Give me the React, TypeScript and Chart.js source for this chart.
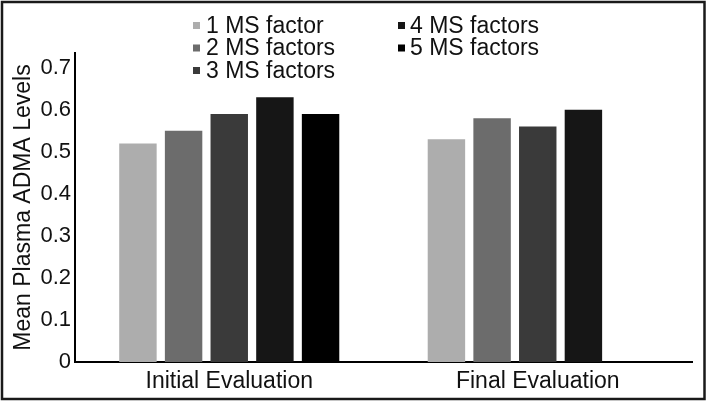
import React, { useEffect, useRef } from "react";
import { Chart, registerables } from "chart.js";

Chart.register(...registerables);

const categories = ["Initial Evaluation", "Final Evaluation"];
const seriesLabels = ["1 MS factor", "2 MS factors", "3 MS factors", "4 MS factors", "5 MS factors"];
const series1 = [0.52, 0.53];
const series2 = [0.55, 0.58];
const series3 = [0.59, 0.56];
const series4 = [0.63, 0.6];
const series5 = [0.59, null];
const seriesColors = ["#adadad", "#6c6c6c", "#3a3a3a", "#161616", "#000000"];
const yTitle = "Mean Plasma ADMA Levels";

const FONT = "'Liberation Sans', Arial, sans-serif";

const legendAndFrame = {
  id: "legendAndFrame",
  afterDraw(chart: any) {
    const ctx = chart.ctx;
    ctx.save();
    const cols = [
      { mx: 193, tx: 206 },
      { mx: 398, tx: 410 },
    ];
    const rowY = [25.5, 48, 70.5];
    ctx.font = `23px ${FONT}`;
    ctx.textBaseline = "middle";
    ctx.textAlign = "left";
    chart.data.datasets.forEach((ds: any, i: number) => {
      const c = cols[i < 3 ? 0 : 1];
      const y = rowY[i < 3 ? i : i - 3];
      ctx.fillStyle = ds.backgroundColor;
      ctx.fillRect(c.mx, y - 3.5, 7, 7);
      ctx.fillStyle = "#111";
      ctx.fillText(ds.label, c.tx, y + 1);
    });
    ctx.strokeStyle = "#1a1a1a";
    ctx.lineWidth = 2.5;
    ctx.strokeRect(2, 2, 702.5, 397);
    ctx.restore();
  },
};

export default function App() {
  const ref = useRef<HTMLCanvasElement>(null);
  useEffect(() => {
    document.body.style.margin = "0";
    const seriesValues = [series1, series2, series3, series4, series5];
    const chart = new Chart(ref.current!, {
      type: "bar",
      data: {
        labels: categories,
        datasets: seriesLabels.map((label, i) => ({
          label,
          data: seriesValues[i],
          backgroundColor: seriesColors[i],
          borderWidth: 0,
          categoryPercentage: 0.74,
          barPercentage: 0.82,
        })),
      },
      options: {
        animation: false,
        responsive: true,
        maintainAspectRatio: false,
        layout: { padding: { top: 53, right: 17, bottom: 0, left: 0 } },
        plugins: { legend: { display: false }, tooltip: { enabled: false } },
        scales: {
          x: {
            grid: { display: false, drawTicks: false },
            border: { display: true, color: "#000", width: 2 },
            ticks: { color: "#111", font: { family: FONT, size: 23 }, padding: 6 },
            afterFit: (s: any) => {
              s.height = 40;
            },
          },
          y: {
            min: 0,
            max: 0.735,
            grid: { display: false, drawTicks: false },
            border: { display: true, color: "#000", width: 2 },
            ticks: {
              stepSize: 0.1,
              includeBounds: false,
              color: "#111",
              font: { family: FONT, size: 22 },
              padding: 4,
              callback: (v: any) => (v === 0 ? "0" : Number(v).toFixed(1)),
            },
            title: {
              display: true,
              text: yTitle,
              color: "#111",
              font: { family: FONT, size: 23 },
              padding: { top: 10, bottom: 0 },
            },
            afterFit: (s: any) => {
              s.width = 75;
            },
          },
        },
      },
      plugins: [legendAndFrame],
    });
    return () => chart.destroy();
  }, []);
  return (
    <div style={{ width: 709, height: 402, position: "relative", background: "#fff" }}>
      <canvas ref={ref} />
    </div>
  );
}
